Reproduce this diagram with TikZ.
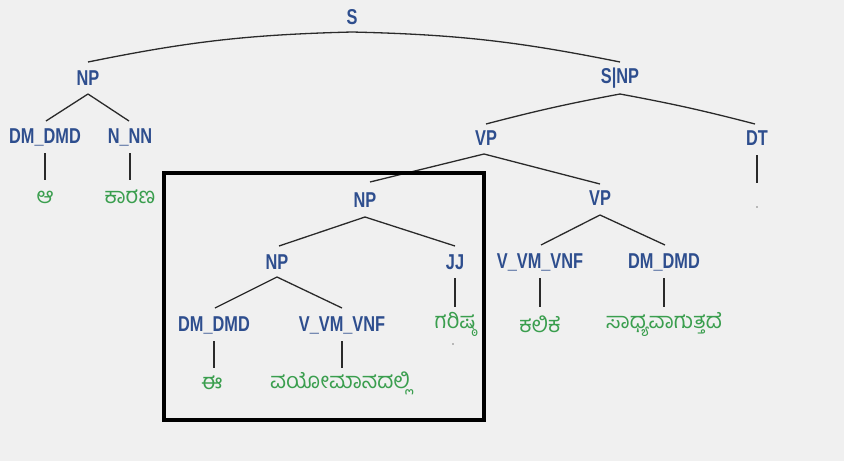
\documentclass[tikz,border=0pt]{standalone}
\usepackage{fontspec}
\setmainfont{Liberation Sans}
\newfontfamily\labfont[FakeStretch=0.76]{Liberation Sans Bold}
\newfontfamily\knfont[Script=Kannada]{Hind Mysuru}
\definecolor{bgc}{HTML}{F0F0F0}
\definecolor{labc}{HTML}{2E4E8E}
\definecolor{leafc}{HTML}{3A9E4E}
\definecolor{linec}{HTML}{2A2A2A}
\begin{document}
\begin{tikzpicture}[x=1pt,y=-1pt,
  lab/.style={inner sep=0pt, text=labc, font=\labfont\fontsize{21.5}{21.5}\selectfont},
  leaf/.style={inner sep=0pt, text=leafc, font=\knfont\fontsize{22}{22}\selectfont},
  br/.style={draw=linec, line width=1.3pt},
  vl/.style={draw=linec, line width=1.2pt},
  dotmark/.style={circle, fill=gray, inner sep=0pt, minimum size=1.6pt}]
\fill[bgc] (0,0) rectangle (844,461);
\useasboundingbox (0,0) rectangle (844,461);
% labels
\node[lab] (S) at (352,17) {S};
\node[lab] (NPa) at (88,78) {NP};
\node[lab] (SNP) at (620,78) {S|NP};
\node[lab] (DMa) at (45,137) {DM\_DMD};
\node[lab] (NNa) at (130,137) {N\_NN};
\node[lab] (VPa) at (486,138) {VP};
\node[lab] (DT) at (757,138) {DT};
\node[lab] (NPb) at (365,200) {NP};
\node[lab] (VPb) at (600,198) {VP};
\node[lab] (NPc) at (277,262) {NP};
\node[lab] (JJ) at (455,262) {JJ};
\node[lab] (VVa) at (540,262) {V\_VM\_VNF};
\node[lab] (DMc) at (664,262) {DM\_DMD};
\node[lab] (DMb) at (214,325) {DM\_DMD};
\node[lab] (VVb) at (342,325) {V\_VM\_VNF};
% leaves
\node[leaf] (La) at (45,197) {ಆ};
\node[leaf] (Lk) at (130,197) {ಕಾರಣ};
\node[dotmark] (Ldt) at (757,207) {};
\node[leaf] (Lg) at (455,324) {ಗರಿಷ್ಠ};
\node[dotmark] (Ldot) at (453,344) {};
\node[leaf] (Lka) at (540,324) {ಕಲಿಕೆ};
\node[leaf] (Ls) at (664,324) {ಸಾಧ್ಯವಾಗುತ್ತದೆ};
\node[leaf] (Le) at (212,383) {ಈ};
\node[leaf] (Lv) at (340,383) {ವಯೋಮಾನದಲ್ಲಿ};
% branches
\draw[br] (352,32) to[bend right=5] (88,62);
\draw[br] (352,32) to[bend left=5] (620,62);
\draw[br] (88,94) -- (46,121);
\draw[br] (88,94) -- (129,121);
\draw[br] (620,94) to[bend right=2] (486,124);
\draw[br] (620,94) to[bend left=2] (755,124);
\draw[br] (484,154) -- (370,182);
\draw[br] (484,154) -- (600,184);
\draw[br] (365,217) -- (279,246);
\draw[br] (365,217) -- (455,246);
\draw[br] (600,215) -- (541,245);
\draw[br] (600,215) -- (665,245);
\draw[br] (277,277) -- (215,308);
\draw[br] (277,277) -- (342,308);
% verticals
\draw[vl] (45,153) -- (45,180);
\draw[vl] (130,153) -- (130,180);
\draw[vl] (757,155) -- (757,183);
\draw[vl] (455,278) -- (455,307);
\draw[vl] (540,278) -- (540,307);
\draw[vl] (664,278) -- (664,307);
\draw[vl] (214,341) -- (214,368);
\draw[vl] (342,341) -- (342,368);
% box
\draw[black, line width=4pt] (164,173) rectangle (484,420);
\end{tikzpicture}
\end{document}
